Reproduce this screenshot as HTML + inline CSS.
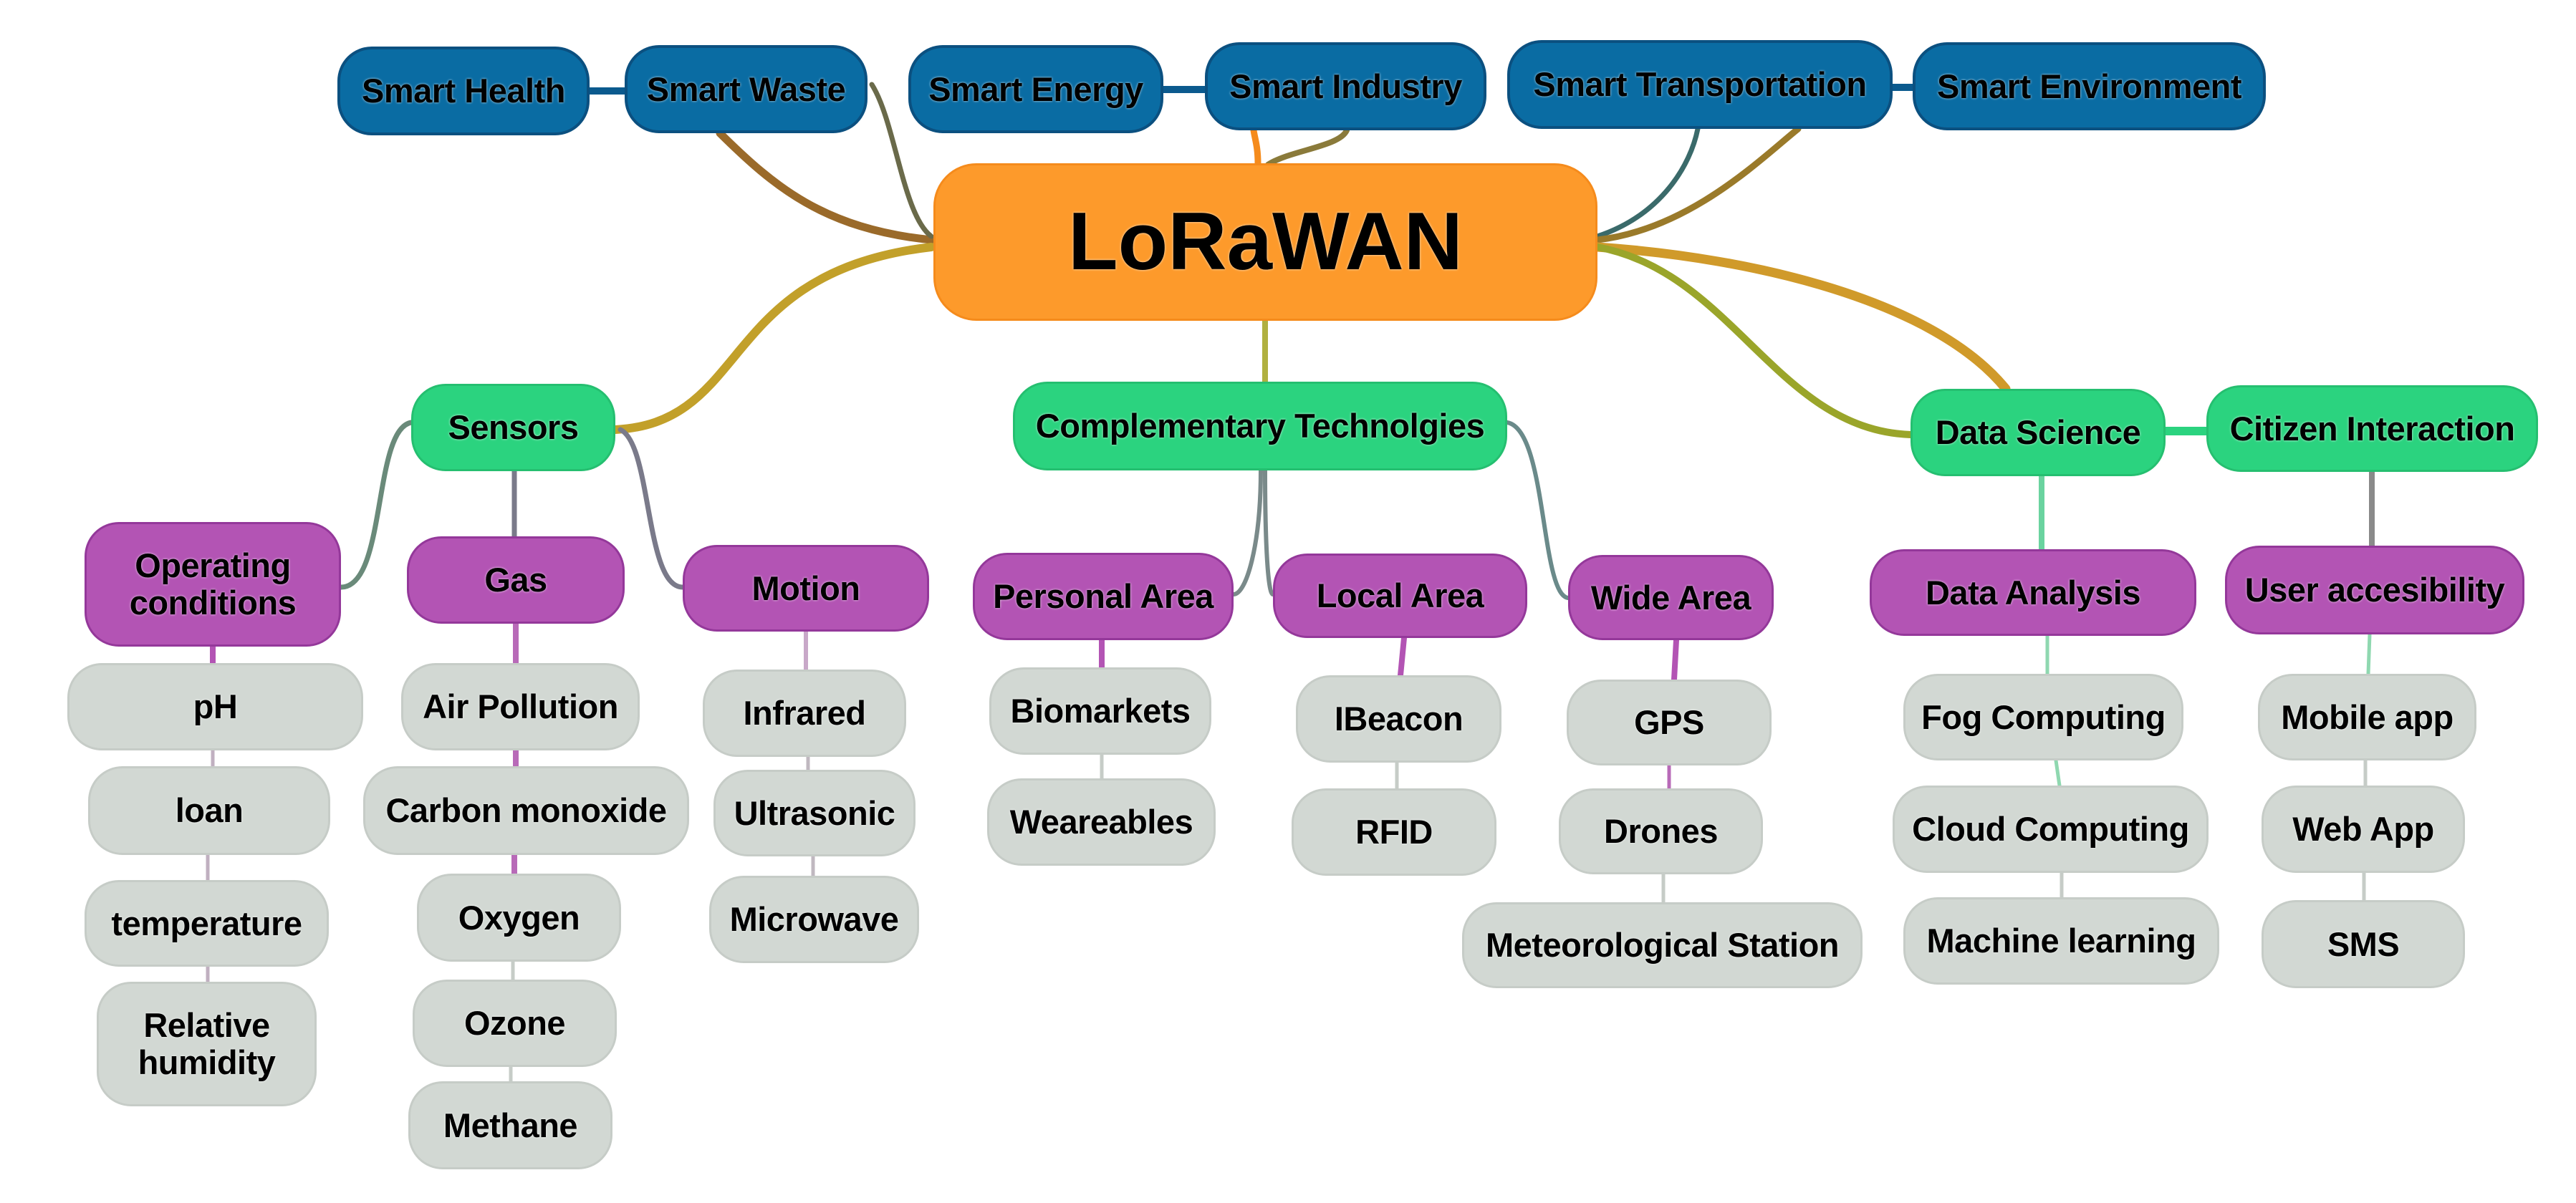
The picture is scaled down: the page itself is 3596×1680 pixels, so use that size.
<!DOCTYPE html>
<html><head><meta charset="utf-8"><style>
html,body{margin:0;padding:0;background:#fff;}
#c{position:relative;width:3596px;height:1680px;overflow:hidden;font-family:"Liberation Sans",sans-serif;}
svg{position:absolute;left:0;top:0;}
.n{position:absolute;box-sizing:border-box;display:flex;align-items:center;justify-content:center;text-align:center;font-weight:bold;font-size:47px;line-height:52px;color:#000;border-radius:48px;text-shadow:0 0 3px rgba(255,255,255,.8);letter-spacing:-0.5px;white-space:nowrap;}
.b{background:#0a6ca3;border:4px solid #0b5080;}
.g{background:#2bd37f;border:3px solid #25bf70;}
.p{background:#b354b4;border:3px solid #94389a;}
.y{background:#d2d8d3;border:3px solid #c6ccc7;}
.o{background:#fd9a2b;border:3px solid #f58b1c;border-radius:60px;font-size:114px;letter-spacing:0;}
</style></head><body><div id="c">
<svg width="3596" height="1680" fill="none" stroke-linecap="round">
<path d="M823 127 L872 127" stroke="#0b5a8e" stroke-width="10"/>
<path d="M1624 125 L1682 125" stroke="#0b5a8e" stroke-width="10"/>
<path d="M2642 122 L2670 122" stroke="#0b5a8e" stroke-width="10"/>
<path d="M3023 602 L3080 602" stroke="#2bd37f" stroke-width="12"/>
<path d="M1300 335 C1150 320 1080 260 1005 186" stroke="#9a6a2a" stroke-width="11"/>
<path d="M1300 330 C1260 300 1250 170 1217 118" stroke="#6a6a4a" stroke-width="7"/>
<path d="M1756 228 C1756 205 1752 195 1750 182" stroke="#f58b1c" stroke-width="9"/>
<path d="M1770 230 C1800 210 1870 205 1880 182" stroke="#8a7a3a" stroke-width="8"/>
<path d="M2230 330 C2320 300 2360 230 2370 180" stroke="#3a6a6a" stroke-width="7"/>
<path d="M2230 335 C2360 320 2460 220 2510 180" stroke="#9a7a2a" stroke-width="9"/>
<path d="M2230 345 C2450 360 2700 420 2800 543" stroke="#d09a2a" stroke-width="13"/>
<path d="M2230 345 C2420 380 2480 600 2667 607" stroke="#9aa52a" stroke-width="10"/>
<path d="M1766 448 L1766 533" stroke="#b0b040" stroke-width="8"/>
<path d="M1300 345 C1000 380 1050 590 859 600" stroke="#c2a02a" stroke-width="12"/>
<path d="M574 590 C520 600 540 820 476 820" stroke="#6a8a7a" stroke-width="7"/>
<path d="M718 658 L718 749" stroke="#7a7a8a" stroke-width="7"/>
<path d="M866 600 C910 620 900 820 953 820" stroke="#7a7a8a" stroke-width="7"/>
<path d="M1760 657 C1760 760 1740 830 1722 830" stroke="#7a8a8a" stroke-width="6"/>
<path d="M1766 657 C1766 760 1770 830 1777 830" stroke="#7a8a8a" stroke-width="6"/>
<path d="M2104 590 C2160 600 2150 830 2189 835" stroke="#6a8a8a" stroke-width="6"/>
<path d="M2850 665 L2850 767" stroke="#6ad39f" stroke-width="8"/>
<path d="M3311 659 L3311 762" stroke="#8a8a8a" stroke-width="8"/>
<path d="M297 903 L297 926" stroke="#b354b4" stroke-width="8"/>
<path d="M297 1048 L297 1070 M290 1194 L290 1229 M290 1350 L290 1371" stroke="#c0b0c0" stroke-width="5"/>
<path d="M720 871 L720 926 M720 1048 L720 1070 M718 1194 L718 1220" stroke="#b86ab8" stroke-width="8"/>
<path d="M716 1343 L716 1368 M713 1490 L713 1510" stroke="#c6ccc7" stroke-width="5"/>
<path d="M1125 882 L1125 935" stroke="#c8a8c8" stroke-width="6"/>
<path d="M1128 1057 L1128 1075 M1135 1196 L1135 1223" stroke="#c0b8c0" stroke-width="5"/>
<path d="M1538 894 L1538 932" stroke="#b354b4" stroke-width="8"/>
<path d="M1538 1054 L1538 1087" stroke="#c6ccc7" stroke-width="5"/>
<path d="M1960 891 L1955 943" stroke="#b354b4" stroke-width="8"/>
<path d="M1950 1065 L1950 1101" stroke="#c6ccc7" stroke-width="5"/>
<path d="M2340 894 L2337 949" stroke="#b354b4" stroke-width="8"/>
<path d="M2330 1069 L2330 1101" stroke="#b86ab8" stroke-width="5"/>
<path d="M2322 1221 L2322 1260" stroke="#c6ccc7" stroke-width="5"/>
<path d="M2858 888 L2858 941 M2870 1062 L2875 1097" stroke="#8fd8b0" stroke-width="5"/>
<path d="M2878 1219 L2878 1253" stroke="#c6ccc7" stroke-width="5"/>
<path d="M3308 886 L3306 941" stroke="#8fd8b0" stroke-width="5"/>
<path d="M3302 1062 L3302 1097 M3300 1219 L3300 1257" stroke="#c6ccc7" stroke-width="5"/>
</svg>
<div class="n b" style="left:471px;top:65px;width:352px;height:124px">Smart Health</div>
<div class="n b" style="left:872px;top:63px;width:339px;height:123px">Smart Waste</div>
<div class="n b" style="left:1268px;top:63px;width:356px;height:123px">Smart Energy</div>
<div class="n b" style="left:1682px;top:59px;width:393px;height:123px">Smart Industry</div>
<div class="n b" style="left:2104px;top:56px;width:538px;height:124px">Smart Transportation</div>
<div class="n b" style="left:2670px;top:59px;width:493px;height:123px">Smart Environment</div>
<div class="n o" style="left:1303px;top:228px;width:927px;height:220px">LoRaWAN</div>
<div class="n g" style="left:574px;top:536px;width:285px;height:122px">Sensors</div>
<div class="n g" style="left:1414px;top:533px;width:690px;height:124px">Complementary Technolgies</div>
<div class="n g" style="left:2667px;top:543px;width:356px;height:122px">Data Science</div>
<div class="n g" style="left:3080px;top:538px;width:463px;height:121px">Citizen Interaction</div>
<div class="n p" style="left:118px;top:729px;width:358px;height:174px">Operating<br>conditions</div>
<div class="n p" style="left:568px;top:749px;width:304px;height:122px">Gas</div>
<div class="n p" style="left:953px;top:761px;width:344px;height:121px">Motion</div>
<div class="n p" style="left:1358px;top:772px;width:364px;height:122px">Personal Area</div>
<div class="n p" style="left:1777px;top:773px;width:355px;height:118px">Local Area</div>
<div class="n p" style="left:2189px;top:775px;width:287px;height:119px">Wide Area</div>
<div class="n p" style="left:2610px;top:767px;width:456px;height:121px">Data Analysis</div>
<div class="n p" style="left:3106px;top:762px;width:418px;height:124px">User accesibility</div>
<div class="n y" style="left:94px;top:926px;width:413px;height:122px">pH</div>
<div class="n y" style="left:123px;top:1070px;width:338px;height:124px">loan</div>
<div class="n y" style="left:118px;top:1229px;width:341px;height:121px">temperature</div>
<div class="n y" style="left:135px;top:1371px;width:307px;height:174px">Relative<br>humidity</div>
<div class="n y" style="left:560px;top:926px;width:333px;height:122px">Air Pollution</div>
<div class="n y" style="left:507px;top:1070px;width:455px;height:124px">Carbon monoxide</div>
<div class="n y" style="left:582px;top:1220px;width:285px;height:123px">Oxygen</div>
<div class="n y" style="left:576px;top:1368px;width:285px;height:122px">Ozone</div>
<div class="n y" style="left:570px;top:1510px;width:285px;height:123px">Methane</div>
<div class="n y" style="left:981px;top:935px;width:284px;height:122px">Infrared</div>
<div class="n y" style="left:996px;top:1075px;width:282px;height:121px">Ultrasonic</div>
<div class="n y" style="left:990px;top:1223px;width:293px;height:122px">Microwave</div>
<div class="n y" style="left:1381px;top:932px;width:310px;height:122px">Biomarkets</div>
<div class="n y" style="left:1378px;top:1087px;width:319px;height:122px">Weareables</div>
<div class="n y" style="left:1809px;top:943px;width:287px;height:122px">IBeacon</div>
<div class="n y" style="left:1803px;top:1101px;width:286px;height:122px">RFID</div>
<div class="n y" style="left:2187px;top:949px;width:286px;height:120px">GPS</div>
<div class="n y" style="left:2176px;top:1101px;width:285px;height:120px">Drones</div>
<div class="n y" style="left:2041px;top:1260px;width:559px;height:120px">Meteorological Station</div>
<div class="n y" style="left:2657px;top:941px;width:391px;height:121px">Fog Computing</div>
<div class="n y" style="left:2642px;top:1097px;width:441px;height:122px">Cloud Computing</div>
<div class="n y" style="left:2657px;top:1253px;width:441px;height:122px">Machine learning</div>
<div class="n y" style="left:3152px;top:941px;width:305px;height:121px">Mobile app</div>
<div class="n y" style="left:3157px;top:1097px;width:284px;height:122px">Web App</div>
<div class="n y" style="left:3157px;top:1257px;width:284px;height:123px">SMS</div>
</div></body></html>
